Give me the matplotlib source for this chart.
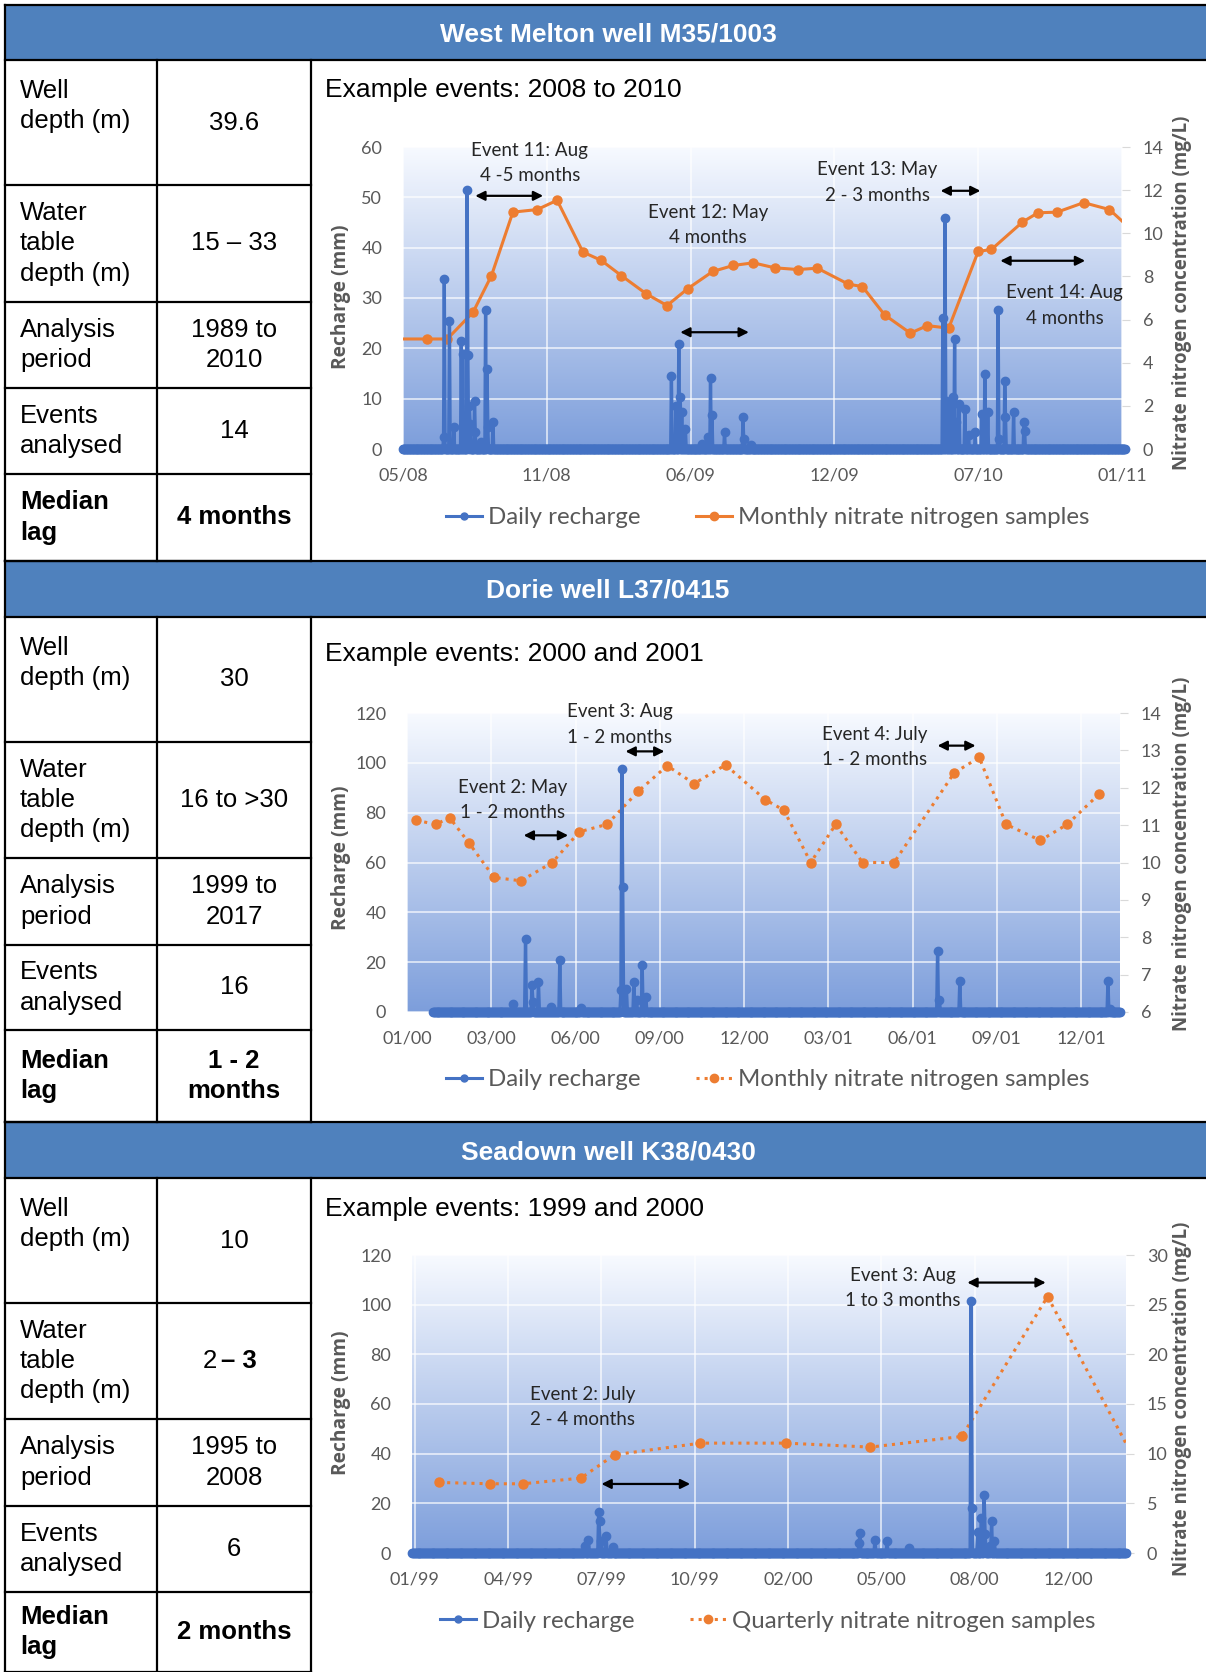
import numpy as np
import matplotlib
matplotlib.use("Agg")
import matplotlib.pyplot as plt
from matplotlib.lines import Line2D
from matplotlib.patches import Rectangle

W, H = 1206, 1672

BLUE = "#4472C4"
ORANGE = "#ED7D31"
HEAD = "#4F81BD"
GREY = "#595959"
ARIAL = ["Liberation Sans", "DejaVu Sans"]
CALIBRI = ["Lato", "DejaVu Sans"]

## table text
row_labels = ["Well\ndepth (m)", "Water\ntable\ndepth (m)", "Analysis\nperiod",
              "Events\nanalysed", "Median\nlag"]
wm_values = ["39.6", "15 \u2013 33", "1989 to\n2010", "14", "4 months"]
dr_values = ["30", "16 to >30", "1999 to\n2017", "16", "1 - 2\nmonths"]
sd_values = ["10", "2 \u2013 3", "1995 to\n2008", "6", "2 months"]

## West Melton (days from the 05/08 tick)
wm_xlabels = ["05/08", "11/08", "06/09", "12/09", "07/10", "01/11"]
wm_no3_day = [-15, 33, 60, 95, 120, 149, 182, 209, 244, 269, 296, 330, 358, 386, 420, 448,
              475, 504, 535, 562, 604, 623, 653, 688, 711, 740, 780, 798, 840, 861, 887,
              923, 958, 990]
wm_no3 = [5.1, 5.1, 5.1, 6.34, 8.04, 10.98, 11.1, 11.53, 9.13, 8.74, 8.04, 7.19, 6.65,
          7.43, 8.23, 8.51, 8.63, 8.4, 8.32, 8.38, 7.64, 7.53, 6.22, 5.37, 5.72, 5.6,
          9.16, 9.25, 10.52, 10.95, 10.98, 11.42, 11.1, 10.1]
wm_rech_day = [55, 56, 63, 69, 79, 81, 87, 88, 90, 91, 97, 98, 106, 112, 114, 115, 122,
               364, 370, 374, 376, 378, 383, 406, 413, 417, 419, 436, 461, 462, 472,
               732, 735, 736, 741, 746, 748, 750, 754, 762, 767, 776, 785, 789, 793,
               807, 808, 816, 817, 828, 842, 843]
wm_rech = [2.3, 33.7, 25.5, 4.3, 21.5, 18.9, 51.5, 18.6, 8.6, 5.0, 9.6, 3.3, 1.3, 27.7,
           15.8, 4.3, 5.4,
           14.5, 8.6, 20.9, 10.3, 7.3, 4.0, 1.0, 2.3, 14.1, 6.8, 3.4, 6.3, 2.0, 0.7,
           26.0, 45.9, 9.6, 9.3, 10.3, 21.9, 5.3, 9.0, 8.0, 2.7, 3.3, 7.0, 14.9, 7.3,
           27.7, 2.0, 13.6, 6.3, 7.4, 5.3, 3.6]
wm_notes = [("Event 11: Aug\n4 -5 months", 172, 57.3), ("Event 12: May\n4 months", 414, 45.0),
            ("Event 13: May\n2 - 3 months", 643, 53.4), ("Event 14: Aug\n4 months", 897, 29.0)]
wm_arrows = [(98, 190, 50.3), (376, 469, 23.2), (729, 783, 51.3), (810, 925, 37.4)]

## Dorie (days from the 01/00 tick)
dr_xlabels = ["01/00", "03/00", "06/00", "09/00", "12/00", "03/01", "06/01", "09/01", "12/01"]
dr_no3_day = [10, 31, 46, 67, 94, 123, 157, 186, 216, 250, 281, 310, 344, 387, 407, 436,
              463, 492, 526, 591, 618, 647, 684, 713, 747]
dr_no3 = [11.13, 11.02, 11.2, 10.52, 9.6, 9.51, 10.0, 10.82, 11.02, 11.91, 12.59, 12.11,
          12.61, 11.68, 11.4, 10.0, 11.02, 10.0, 10.0, 12.4, 12.81, 11.02, 10.59, 11.02, 11.82]
dr_rech_day = [115, 128, 135, 136, 142, 155, 165, 188, 231, 232, 233, 237, 245, 248, 254,
               258, 573, 575, 597, 757, 759]
dr_rech = [3.1, 29.2, 10.7, 4.0, 12.0, 2.0, 20.7, 1.7, 8.7, 97.7, 50.2, 9.4, 12.0, 4.7,
           18.7, 6.0, 24.5, 5.0, 12.4, 12.4, 1.3]
dr_notes = [("Event 2: May\n1 - 2 months", 114, 86.0), ("Event 3: Aug\n1 - 2 months", 230, 116.3),
            ("Event 4: July\n1 - 2 months", 505, 107.2)]
dr_arrows = [(126, 174, 70.9), (236, 278, 104.6), (573, 614, 106.9)]

## Seadown (days from the 01/99 tick)
sd_xlabels = ["01/99", "04/99", "07/99", "10/99", "02/00", "05/00", "08/00", "12/00"]
sd_no3_day = [26, 81, 116, 178, 214, 306, 398, 488, 586, 678, 769]
sd_no3 = [7.1, 6.97, 6.97, 7.54, 9.89, 11.06, 11.06, 10.66, 11.73, 25.81, 9.8]
sd_rech_day = [182, 186, 197, 198, 200, 205, 212, 476, 477, 493, 506, 529, 596, 597, 603,
               607, 610, 611, 616, 618, 621]
sd_rech = [2.7, 5.1, 16.4, 13.0, 4.7, 7.0, 2.4, 4.0, 8.0, 5.4, 4.7, 2.0, 101.6, 18.1, 8.3,
           14.1, 23.5, 7.8, 2.7, 12.7, 4.7]
sd_notes = [("Event 2: July\n2 - 4 months", 180, 59.7), ("Event 3: Aug\n1 to 3 months", 523, 107.7)]
sd_arrows = [(200, 295, 27.8), (592, 676, 108.9)]


fig = plt.figure(figsize=(W / 100, H / 100), dpi=100)


def fx(x):
    return x / W


def fy(y):
    return 1 - y / H


def hline(x0, x1, y):
    fig.add_artist(Line2D([fx(x0), fx(x1)], [fy(y), fy(y)], color="black", lw=1.6))


def vline(x, y0, y1):
    fig.add_artist(Line2D([fx(x), fx(x)], [fy(y0), fy(y1)], color="black", lw=1.6))


def draw_table(header, rows, values):
    # header band
    fig.add_artist(Rectangle((fx(5), fy(rows[0])), fx(W - 5), (rows[0] - header) / H,
                             facecolor=HEAD, edgecolor="none"))
    hline(5, W, header)
    hline(5, W, rows[0])
    fig.text(fx(608), fy((header + rows[0]) / 2 + 2), title_of[header], color="white",
             fontsize=19, fontweight="bold", family=ARIAL, ha="center", va="center")
    vline(5, header, rows[-1])
    vline(157, rows[0], rows[-1])
    vline(311, rows[0], rows[-1])
    for i in range(5):
        top, bot = rows[i], rows[i + 1]
        hline(5, 311, bot)
        bold = "bold" if i == 4 else "normal"
        ly = top + 46 if i == 0 else (top + bot) / 2
        fig.text(fx(20), fy(ly), row_labels[i], fontsize=18.5, family=ARIAL,
                 fontweight=bold, va="center", ha="left", linespacing=1.33)
        v = values[i]
        if v == "2 \u2013 3":
            fig.text(fx(217), fy((top + bot) / 2), "2", fontsize=18.5, family=ARIAL,
                     va="center", ha="right")
            fig.text(fx(221), fy((top + bot) / 2), "\u2013 3", fontsize=18.5, family=ARIAL,
                     fontweight="bold", va="center", ha="left")
        else:
            fig.text(fx(234), fy((top + bot) / 2), v, fontsize=18.5, family=ARIAL,
                     fontweight=bold, va="center", ha="center", linespacing=1.33)


def daily(first, last, days, vals):
    d = np.arange(first, last + 1)
    v = np.zeros(len(d))
    for day, val in zip(days, vals):
        v[day - first] = val
    return d, v


def draw_chart(box, xlim, step, xlabels, yl, ylstep, yr, yrstep, band, rech_day, rech,
               no3_day, no3, dotted, notes, arrows, title, title_y, no3_label, legend_y,
               ylab_y):
    l, t, r, b = box
    rect = [fx(l), fy(b), (r - l) / W, (b - t) / H]
    xt = np.arange(0, len(xlabels)) * step
    ytl = np.arange(yl[0], yl[1] + 0.1, ylstep)
    ytr = np.arange(yr[0], yr[1] + 0.1, yrstep)

    fig.text(fx(325), fy(title_y), title, fontsize=19, family=ARIAL, va="center")

    bg = fig.add_axes(rect, zorder=0)
    top_c = np.array([0.97, 0.98, 1.0])
    bot_c = np.array([0.49, 0.62, 0.86])
    k = np.linspace(0, 1, 200)[:, None]
    grad = (top_c * (1 - k) + bot_c * k)[:, None, :]
    bg.imshow(grad, extent=[xlim[0], xlim[1], yl[0], yl[1]], aspect="auto", zorder=0)
    bg.set_xlim(xlim)
    bg.set_ylim(yl)
    bg.set_xticks(xt)
    bg.set_yticks(ytl)
    bg.grid(color="white", lw=1.2, alpha=0.75)
    bg.tick_params(length=0, labelbottom=False, labelleft=False)
    for s in bg.spines.values():
        s.set_visible(False)

    ax2 = fig.add_axes(rect, zorder=1)
    ax2.patch.set_visible(False)
    ax2.plot(no3_day, no3, color=ORANGE, lw=2.2, ls=":" if dotted else "-",
             marker="o", ms=6.5)
    ax2.set_xlim(xlim)
    ax2.set_ylim(yr)
    ax2.set_yticks(ytr)
    ax2.set_yticklabels([f"{v:g}" for v in ytr])
    ax2.yaxis.tick_right()
    ax2.tick_params(axis="y", length=6, color="#d9d9d9", pad=9, labelsize=13,
                    labelcolor=GREY)
    ax2.set_xticks([])
    for s in ax2.spines.values():
        s.set_visible(False)
    for lab in ax2.get_yticklabels():
        lab.set_family(CALIBRI)

    ax = fig.add_axes(rect, zorder=2)
    ax.patch.set_visible(False)
    d, v = daily(band[0], band[1], rech_day, rech)
    ax.plot(d, v, color=BLUE, lw=2.4, marker="o", ms=6, clip_on=False)
    ax.set_xlim(xlim)
    ax.set_ylim(yl)
    ax.set_xticks(xt)
    ax.set_xticklabels(xlabels)
    ax.set_yticks(ytl)
    ax.set_yticklabels([f"{v:g}" for v in ytl])
    ax.tick_params(length=0, labelsize=13, labelcolor=GREY)
    ax.tick_params(axis="y", pad=15)
    ax.tick_params(axis="x", pad=13)
    for lab in ax.get_xticklabels() + ax.get_yticklabels():
        lab.set_family(CALIBRI)
    for s in ax.spines.values():
        s.set_visible(False)

    # y in data units; nudge the two-line notes down a touch
    dy = (yl[1] - yl[0]) * 0.008
    for txt, x, y in notes:
        ax.text(x, y - dy, txt, ha="center", va="center", fontsize=13.5, family=CALIBRI,
                color="#262626", linespacing=1.6)
    for x0, x1, y in arrows:
        ax.annotate("", xy=(x1, y), xytext=(x0, y),
                    arrowprops=dict(arrowstyle="<|-|>", color="black", lw=1.6,
                                    mutation_scale=14, shrinkA=0, shrinkB=0))

    fig.text(fx(341), fy(ylab_y), "Recharge (mm)", rotation=90, ha="center", va="center",
             fontsize=13.8, fontweight="bold", family=["Open Sans", "DejaVu Sans"],
             color=GREY)
    fig.text(fx(1182), fy(ylab_y - 4), "Nitrate nitrogen concentration (mg/L)",
             rotation=90, ha="center", va="center", fontsize=13.5, fontweight="bold",
             family=["Open Sans", "DejaVu Sans"], color=GREY)

    handles = [Line2D([], [], color=BLUE, lw=2.2, marker="o", ms=5),
               Line2D([], [], color=ORANGE, lw=2.2, ls=":" if dotted else "-",
                      marker="o", ms=6)]
    fig.legend(handles, ["Daily recharge", no3_label], loc="center",
               bbox_to_anchor=(fx(768), fy(legend_y)), ncol=2, frameon=False,
               prop={"family": CALIBRI, "size": 17.3}, labelcolor=GREY,
               handlelength=1.5, handletextpad=0.25, columnspacing=2.3)


title_of = {4.5: "West Melton well M35/1003", 561: "Dorie well L37/0415",
            1122: "Seadown well K38/0430"}

draw_table(4.5, [60, 185, 302, 388, 474, 561], wm_values)
draw_table(561, [617, 742, 858, 945, 1030, 1122], dr_values)
draw_table(1122, [1178, 1303, 1419, 1506, 1592, 1672], sd_values)

draw_chart((403, 147, 1122, 449), (0, 975), 195, wm_xlabels, (0, 60), 10, (0, 14), 2,
           (0, 979), wm_rech_day, wm_rech, wm_no3_day, wm_no3, False, wm_notes, wm_arrows,
           "Example events: 2008 to 2010", 90.5, "Monthly nitrate nitrogen samples", 518,
           297)
draw_chart((407, 713, 1120, 1012), (0, 770), 91, dr_xlabels, (0, 120), 20, (6, 14), 1,
           (28, 770), dr_rech_day, dr_rech, dr_no3_day, dr_no3, True, dr_notes, dr_arrows,
           "Example events: 2000 and 2001", 654.5, "Monthly nitrate nitrogen samples",
           1080, 858)
draw_chart((412, 1255, 1126, 1553), (-3, 762), 100, sd_xlabels, (0, 120), 20, (0, 30), 5,
           (-3, 762), sd_rech_day, sd_rech, sd_no3_day, sd_no3, True, sd_notes, sd_arrows,
           "Example events: 1999 and 2000", 1209, "Quarterly nitrate nitrogen samples",
           1621, 1403)

fig.savefig("out.png", dpi=100)
